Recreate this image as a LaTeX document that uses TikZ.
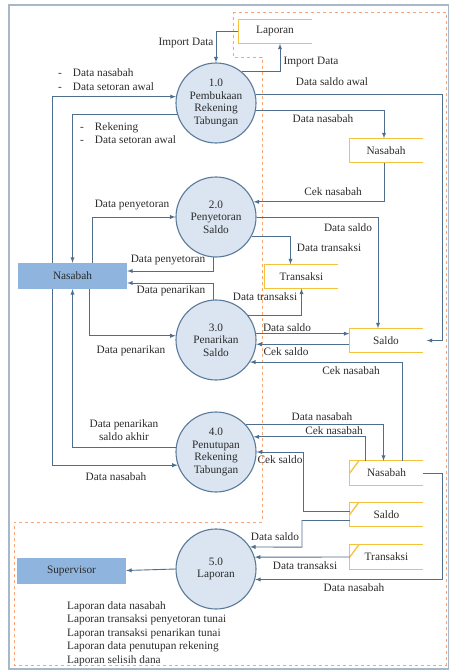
\documentclass[tikz,border=0pt]{standalone}
\usepackage{fontspec}
\setmainfont{Liberation Serif}
\usepackage{tikz}
\usetikzlibrary{arrows, positioning}

\definecolor{framecol}{HTML}{A9B8C8}
\definecolor{dashcol}{HTML}{F2A77A}
\definecolor{flowcol}{HTML}{4E6E8E}
\definecolor{circfill}{HTML}{DAE5F1}
\definecolor{circline}{HTML}{5A7A9A}
\definecolor{entfill}{HTML}{8FB5DE}
\definecolor{storecol}{HTML}{F5C23E}
\definecolor{txtcol}{HTML}{2B2B2B}

\newcommand{\dfdfont}{\fontsize{11.3}{12.5}\selectfont}

\newcommand{\datastore}[3]{ % #1: name, #2: position, #3: label
  \node[storebox] (#1) at (#2) {#3};
  \draw[storeline] (#1.north east) -- (#1.north west) -- (#1.south west) -- (#1.south east);
}
\newcommand{\datastoretick}[3]{ % same store, with the small corner tick
  \datastore{#1}{#2}{#3}
  \draw[storeline] (#1.west) -- ([xshift=9pt]#1.north west);
}

\tikzset{
  proc/.style={circle, draw=circline, fill=circfill, line width=1.1pt, minimum size=80pt,
    inner sep=0pt, align=center, font=\dfdfont, text=txtcol},
  ent/.style={rectangle, fill=entfill, minimum width=109pt, minimum height=26pt,
    inner sep=0pt, font=\dfdfont, text=txtcol},
  storebox/.style={rectangle, minimum width=73pt, minimum height=24pt, inner sep=0pt,
    font=\dfdfont, text=txtcol},
  storeline/.style={draw=storecol, line width=1.3pt},
  flow/.style={draw=flowcol, line width=0.9pt, -latex},
  lbl/.style={inner sep=0pt, font=\dfdfont, text=txtcol},
}

\begin{document}
\begin{tikzpicture}[x=1pt, y=-1pt]
\useasboundingbox (0,0) rectangle (449,671);

% outer frame and dashed system boundary
\draw[framecol, line width=1.5pt] (9,5) rectangle (448.5,669);
\draw[dashcol, dashed, line width=0.7pt] (233,12) -- (446,12) -- (446,665) -- (14,665)
  -- (14,522) -- (262,522) -- (262,57) -- (233,57) -- cycle;

% processes
\node[proc] (p1) at (216,103) {1.0\\Pembukaan\\Rekening\\Tabungan};
\node[proc] (p2) at (216,217) {2.0\\Penyetoran\\Saldo};
\node[proc] (p3) at (216,340) {3.0\\Penarikan\\Saldo};
\node[proc] (p4) at (216,452) {4.0\\Penutupan\\Rekening\\Tabungan};
\node[proc] (p5) at (216,569) {5.0\\Laporan};

% external entities
\node[ent] (nas) at (72.5,276) {Nasabah};
\node[ent] (sup) at (71.5,570.5) {Supervisor};

% data stores
\datastore{lap}{275,31.5}{Laporan}
\datastore{nas1}{386,150.5}{Nasabah}
\datastore{trx1}{301.5,276.5}{Transaksi}
\datastore{sal1}{386,340.5}{Saldo}
\datastoretick{nas2}{386.5,473}{Nasabah}
\datastoretick{sal2}{386.5,514.5}{Saldo}
\datastoretick{trx2}{386.5,557}{Transaksi}

% bend points
\coordinate (rail) at (442,300);
\coordinate (k4) at (303,452);
\coordinate (k5) at (302,547.2);

% 1.0
\draw[flow] (lap.west) -| (p1.north);
\draw[flow] (p1.51) -| ([xshift=5pt]lap.south);
\draw[flow] (p1.12) -| (rail |- sal1.east) -- ([xshift=4pt]sal1.east);
\draw[flow] (p1.-10) -| ([xshift=-2pt]nas1.north);
\draw[flow] ([xshift=-20pt]nas.north) |- (p1.171);
\draw[flow] (p1.196) -| (nas.north);

% 2.0
\draw[flow] ([xshift=-2pt]nas1.south) |- (p2.22);
\draw[flow] (p2.east) -| ([xshift=-8pt]sal1.north);
\draw[flow] (p2.-28) -| ([xshift=-11pt]trx1.north);
\draw[flow] ([xshift=20pt]nas.north) |- (p2.west);
\draw[flow] (p2.-94) |- ([yshift=5pt]nas.east);

% 3.0
\draw[flow] (p3.94) |- ([yshift=-7pt]nas.east);
\draw[flow] ([xshift=17pt]nas.south) |- (p3.174);
\draw[flow] (p3.37) -| (trx1.south);
\draw[flow] (p3.9) -- (p3.9 -| sal1.west);
\draw[flow] (sal1.west |- p3.-6) -- (p3.-6);
\draw[flow] ([xshift=16pt]nas2.north) |- (p3.-33);

% 4.0
\draw[flow] (p4.42) -| ([xshift=-3pt]nas2.north);
\draw[flow] ([xshift=-21pt]nas2.north) |- (p4.22);
\draw[flow] ([yshift=3pt]sal2.west) -| (k4) -- (p4.east);
\draw[flow] (p4.173) -| (nas.south);
\draw[flow] ([xshift=-20pt]nas.south) |- (p4.199);

% 5.0
\draw[flow] (p5.west) -- (sup.east);
\draw[flow] ([yshift=-6pt]sal2.west) -| (k5) -- (p5.33);
\draw[flow] (trx2.west) -- (p5.17);
\draw[flow] (nas2.east) -| (rail |- p5.-15) -- (p5.-15);

% labels
\node[lbl] (lImp1) at (186,43) {Import Data};
\node[lbl] (lImp2) at (311,62) {Import Data};
\node[lbl, anchor=west, align=left] (lNsw) at (58,79.5) {-\hspace{11pt}Data nasabah\\[1.5pt]-\hspace{11pt}Data setoran awal};
\node[lbl, anchor=west, align=left] (lRek) at (80,133.5) {-\hspace{11pt}Rekening\\[0.5pt]-\hspace{11pt}Data setoran awal};
\node[lbl] (lSaw) at (332,82) {Data saldo awal};
\node[lbl] (lDn1) at (323,119) {Data nasabah};
\node[lbl] (lCn1) at (333,192) {Cek nasabah};
\node[lbl] (lPy1) at (132,205) {Data penyetoran};
\node[lbl] (lDs1) at (348,228) {Data saldo};
\node[lbl] (lDt1) at (329,248) {Data transaksi};
\node[lbl] (lPy2) at (168,260) {Data penyetoran};
\node[lbl] (lPn1) at (171,291) {Data penarikan};
\node[lbl] (lDt2) at (265,297) {Data transaksi};
\node[lbl] (lDs2) at (287,328) {Data saldo};
\node[lbl] (lPn2) at (131,351) {Data penarikan};
\node[lbl] (lCs1) at (286,352) {Cek saldo};
\node[lbl] (lCn2) at (351,371) {Cek nasabah};
\node[lbl] (lDn2) at (322,417) {Data nasabah};
\node[lbl, align=center] (lPsa) at (124,430) {Data penarikan\\saldo akhir};
\node[lbl] (lCn3) at (334,431) {Cek nasabah};
\node[lbl] (lCs2) at (280,460) {Cek saldo};
\node[lbl] (lDn3) at (116,477) {Data nasabah};
\node[lbl] (lDs3) at (275,537) {Data saldo};
\node[lbl] (lDt3) at (305,566) {Data transaksi};
\node[lbl] (lDn4) at (354,588) {Data nasabah};
\node[lbl, anchor=north west, align=left, font=\fontsize{11.3}{13.5}\selectfont] (lRep) at (67,601)
  {Laporan data nasabah\\Laporan transaksi penyetoran tunai\\Laporan transaksi penarikan tunai\\Laporan data penutupan rekening\\Laporan selisih dana};

\end{tikzpicture}
\end{document}
